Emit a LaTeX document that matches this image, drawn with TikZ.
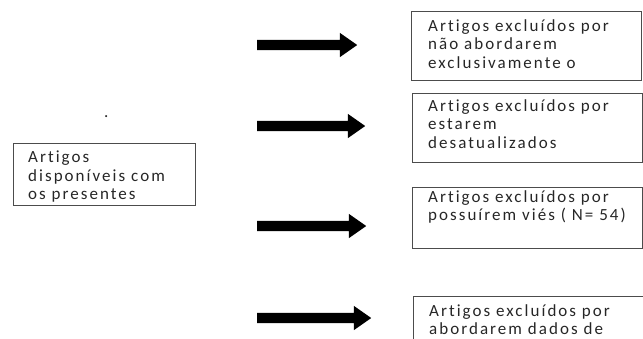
\documentclass[tikz,border=0pt]{standalone}
\usepackage{fontspec}
\setmainfont{Carlito}[LetterSpace=12, Ligatures=NoCommon]
\usetikzlibrary{shapes.arrows}
\def\arrowX{257}
\def\boxW{230pt}

\begin{document}
\begin{tikzpicture}[
    x=1pt, y=-1pt,
    exbox/.style={
      draw=black!70, line width=0.8pt, anchor=north west,
      minimum width=\boxW, inner sep=0pt
    },
    boxtext/.style={
      anchor=north west, align=left, inner sep=0pt, text=black!85,
      font=\fontsize{17}{18.5}\selectfont,
      execute at begin node=\strut
    },
    fatarrow/.style={
      single arrow, fill=black, anchor=west, inner xsep=0pt, inner ysep=5pt,
      single arrow head extend=7pt, single arrow tip angle=70
    }
  ]
    \clip (0,0) rectangle (643,338);

    \node[exbox, minimum width=182pt, minimum height=62pt] (Pool) at (13,143) {};
    \node[boxtext] (PoolTxt) at (28,151) {Artigos\\disponíveis com\\os presentes};
    \node[boxtext] (Dot) at (104,104) {.};

    \node[exbox, minimum height=69pt] (ExclA) at (411,11) {};
    \node[boxtext] (TxtA) at (428,19) {Artigos excluídos por\\não abordarem\\exclusivamente o};

    \node[exbox, minimum height=69pt] (ExclB) at (412,93) {};
    \node[boxtext] (TxtB) at (428,99) {Artigos excluídos por\\estarem\\desatualizados};

    \node[exbox, minimum height=61pt] (ExclC) at (412,187) {};
    \node[boxtext] (TxtC) at (428,190) {Artigos excluídos por\\possuírem viés ( N= 54)};

    \node[exbox, minimum height=60pt] (ExclD) at (413,296) {};
    \node[boxtext] (TxtD) at (429,304) {Artigos excluídos por\\abordarem dados de};

    \node[fatarrow, minimum height=100pt] (ArrA) at (\arrowX,45) {};
    \node[fatarrow, minimum height=108pt] (ArrB) at (\arrowX,126) {};
    \node[fatarrow, minimum height=109pt] (ArrC) at (\arrowX,226) {};
    \node[fatarrow, minimum height=114pt] (ArrD) at (\arrowX,318) {};
\end{tikzpicture}
\end{document}
